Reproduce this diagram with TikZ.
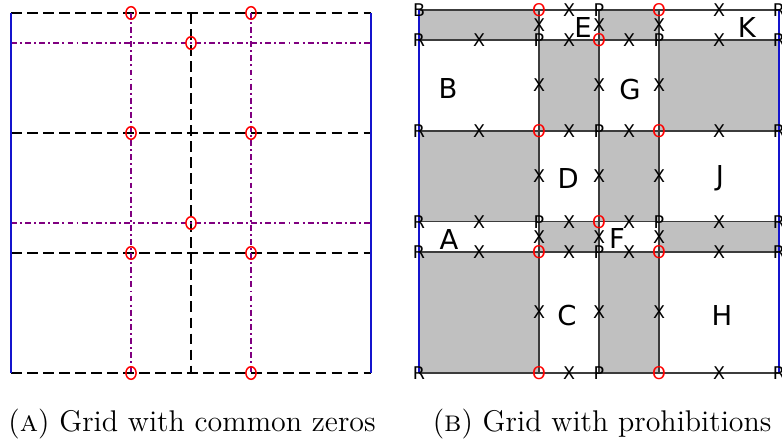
\documentclass[tikz,border=0pt]{standalone}
\usepackage{fontspec}
\newfontfamily\gridfont{DejaVu Sans}
\definecolor{plum}{RGB}{128,0,128}
\definecolor{edgeblue}{RGB}{20,20,205}
\definecolor{cellgray}{RGB}{192,192,192}
\definecolor{linegray}{RGB}{60,60,60}

\begin{document}
\begin{tikzpicture}[x=0.5cm,y=-0.5cm,
	zeroline/.style={line width=1pt,dash pattern=on 5pt off 2.6pt},
	poleline/.style={plum,line width=1pt,dash pattern=on 2.8pt off 1.5pt on 0.9pt off 1.5pt},
	wall/.style={edgeblue,line width=1.2pt},
	cellline/.style={linegray,line width=0.75pt},
	zeroring/.style={red,line width=0.7pt},
	tag/.style={font=\gridfont\fontsize{8.3}{9}\selectfont,inner sep=0pt},
	region/.style={font=\gridfont\fontsize{13}{15}\selectfont,inner sep=0pt},
	caption/.style={font=\fontsize{14.2}{17}\selectfont,anchor=base,inner sep=0pt}]
	\useasboundingbox (0,0) rectangle (26.067,14.767);

	% (a) common zeros
	\begin{scope}[shift={(0.367,0.433)}]
		\foreach \j in {0,4,8,12}
			\draw[zeroline] (0,\j) -- (12,\j);
		\draw[zeroline] (6,0) -- (6,12);
		\foreach \j in {1,7}
			\draw[poleline] (0,\j) -- (12,\j);
		\foreach \i in {4,8}
			\draw[poleline] (\i,0) -- (\i,12);
		\foreach \i in {0,12}
			\draw[wall] (\i,0) -- (\i,12);
		\foreach \i in {4,8}
			\foreach \j in {0,4,8,12}
				\draw[zeroring] (\i,\j) ellipse [x radius=0.17, y radius=0.21];
		\foreach \j in {1,7}
			\draw[zeroring] (6,\j) ellipse [x radius=0.17, y radius=0.21];
	\end{scope}

	% (b) prohibitions
	\begin{scope}[shift={(13.967,0.333)},yscale=1.008]
		\foreach \xa/\ya/\xb/\yb in {0/0/4/1, 6/0/8/1, 4/1/6/4, 8/1/12/4, 0/4/4/7,
				6/4/8/7, 4/7/6/8, 8/7/12/8, 0/8/4/12, 6/8/8/12}
			\fill[cellgray] (\xa,\ya) rectangle (\xb,\yb);
		\foreach \j in {0,1,4,7,8,12}
			\draw[cellline] (0,\j) -- (12,\j);
		\foreach \i in {4,6,8}
			\draw[cellline] (\i,0) -- (\i,12);
		\foreach \i in {0,12}
			\draw[wall] (\i,0) -- (\i,12);

		\foreach \t/\x/\y in {E/5.47/0.57, K/10.93/0.57, B/0.97/2.6, G/7.03/2.63,
				D/4.97/5.57, J/10.03/5.57, A/1.0/7.6, F/6.6/7.57, C/4.93/10.1, H/10.1/10.1}
			\node[region] (reg-\t) at (\x,\y) {\t};

		\foreach \i/\j in {4/0,8/0,6/1,4/4,8/4,6/7,4/8,8/8,4/12,8/12}
			\node[tag,red] (o-\i-\j) at (\i,\j) {O};
		\foreach \i/\j in {6/0,4/1,8/1,6/4,4/7,8/7,6/8,6/12}
			\node[tag] (p-\i-\j) at (\i,\j) {P};
		\foreach \i/\j in {0/1,0/4,0/7,0/8,0/12,12/0,12/1,12/4,12/7,12/8,12/12}
			\node[tag] (r-\i-\j) at (\i,\j) {R};
		\node[tag] (b-0-0) at (0,0) {B};
		\foreach \i/\j [count=\k] in {5/0,10/0,5/12,10/12}
			\node[tag] (xe\k) at (\i,\j) {X};
		\foreach \j in {1,4,7,8}
			\foreach \i in {2,5,7,10}
				\node[tag] (xh-\i-\j) at (\i,\j) {X};
		\foreach \i in {4,6,8}
			\foreach \j [count=\k] in {0.5,2.5,5.5,7.5,10}
				\node[tag] (xv-\i-\k) at (\i,\j) {X};
	\end{scope}

	\node[caption] (capA) at (6.4,14.37) {(\textsc{a}) Grid with common zeros};
	\node[caption] (capB) at (20.07,14.37) {(\textsc{b}) Grid with prohibitions};
\end{tikzpicture}
\end{document}
